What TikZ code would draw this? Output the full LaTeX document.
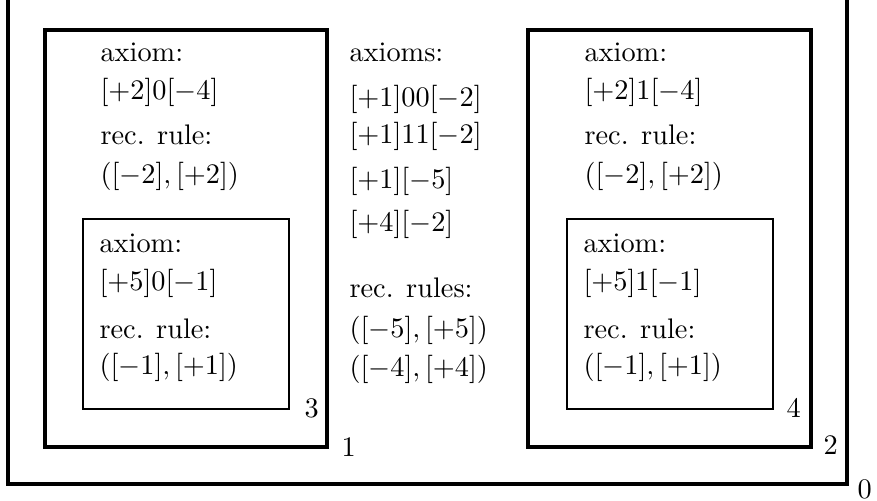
\documentclass[tikz,border=0pt]{standalone}
\usepackage{amsmath}
\usetikzlibrary{positioning}

\begin{document}
\begin{tikzpicture}[x=0.3533pt,y=-0.3533pt,
    every node/.style={inner sep=0pt,anchor=base west},
    frame/.style={line width=1.1pt},
    subframe/.style={line width=0.8pt}]
  \useasboundingbox (0,0) rectangle (877,501);
  % box 0 (its top edge is cut off)
  \draw[frame] (8,0) -- (8,484) -- (847,484) -- (847,0);
  \node (lab0) at (857,499) {0};
  % box 1 with box 3 inside
  \draw[frame] (45,30) rectangle (327,447);
  \node (lab1) at (341,457) {1};
  \node (axA) at (100,62) {axiom:};
  \node (axAv) at (100,100) {$[+2]0[-4]$};
  \node (rrA) at (100,145) {rec. rule:};
  \node (rrAv) at (100,184) {$([-2],[+2])$};
  \draw[subframe] (83,219) rectangle (289,409);
  \node (lab3) at (304,418) {3};
  \node (axC) at (99,253) {axiom:};
  \node (axCv) at (99,291) {$[+5]0[-1]$};
  \node (rrC) at (99,339) {rec. rule:};
  \node (rrCv) at (99,375) {$([-1],[+1])$};
  % middle column
  \node (axM) at (349,62) {axioms:};
  \node (axM1) at (349,107) {$[+1]00[-2]$};
  \node (axM2) at (349,144) {$[+1]11[-2]$};
  \node (axM3) at (349,189) {$[+1][-5]$};
  \node (axM4) at (349,232) {$[+4][-2]$};
  \node (rrM) at (349,298) {rec. rules:};
  \node (rrM1) at (349,338) {$([-5],[+5])$};
  \node (rrM2) at (349,377) {$([-4],[+4])$};
  % box 2 with box 4 inside
  \draw[frame] (528,30) rectangle (811,447);
  \node (lab2) at (823,455) {2};
  \node (axB) at (584,62) {axiom:};
  \node (axBv) at (584,100) {$[+2]1[-4]$};
  \node (rrB) at (584,145) {rec. rule:};
  \node (rrBv) at (584,184) {$([-2],[+2])$};
  \draw[subframe] (567,219) rectangle (773,409);
  \node (lab4) at (786,418) {4};
  \node (axD) at (583,253) {axiom:};
  \node (axDv) at (583,291) {$[+5]1[-1]$};
  \node (rrD) at (583,339) {rec. rule:};
  \node (rrDv) at (583,375) {$([-1],[+1])$};
\end{tikzpicture}
\end{document}
